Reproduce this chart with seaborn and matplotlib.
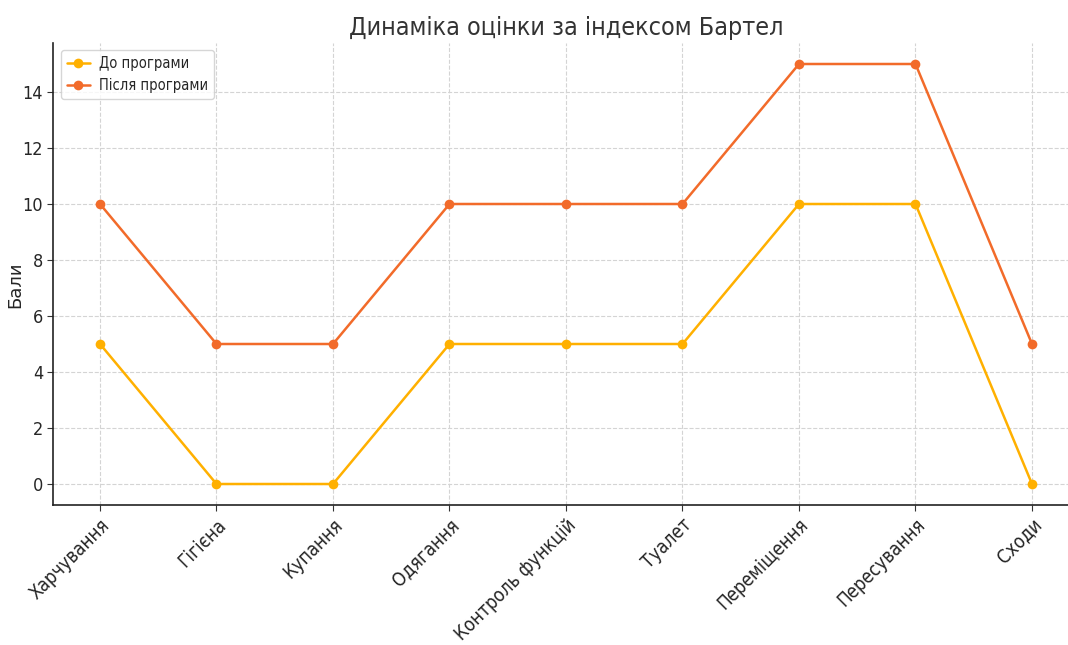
import pandas as pd
import matplotlib.pyplot as plt
import seaborn as sns

categories = ["Харчування", "Гігієна", "Купання", "Одягання", "Контроль функцій",
              "Туалет", "Переміщення", "Пересування", "Сходи"]
before = [5, 0, 0, 5, 5, 5, 10, 10, 0]
after = [10, 5, 5, 10, 10, 10, 15, 15, 5]
series_names = ["До програми", "Після програми"]
colors = ["#FFB000", "#F26B2A"]

sns.set_style("whitegrid", {"grid.linestyle": "--", "grid.color": "#d4d4d4"})
plt.rcParams['font.family'] = ['DejaVu Sans']
plt.rcParams['font.stretch'] = 'condensed'

df = pd.DataFrame({
    "Категорія": categories * 2,
    "Бали": before + after,
    "Серія": [series_names[0]] * len(before) + [series_names[1]] * len(after),
})

fig = plt.figure(figsize=(10.68, 6.45), dpi=100)
ax = fig.add_axes([53.4 / 1068, 140 / 645, (1078.6 - 53.4) / 1068, (505 - 43) / 645])
sns.lineplot(data=df, x="Категорія", y="Бали", hue="Серія", palette=colors,
             marker="o", markersize=7, markeredgewidth=0, linewidth=1.8, ax=ax, sort=False)

ax.set_title("Динаміка оцінки за індексом Бартел", fontsize=18, color="#333333")
ax.set_xlabel("")
ax.set_ylabel("Бали", fontsize=13, fontstretch="normal")
ax.yaxis.set_label_coords(-0.028, 0.476)
ax.tick_params(axis="y", labelsize=13, length=4, color="#333333")
ax.tick_params(axis="x", labelsize=13.5, length=4, color="#333333")
ax.tick_params(axis="x", bottom=True)
ax.tick_params(axis="y", left=True)
plt.setp(ax.get_xticklabels(), rotation=45, ha="right", rotation_mode="anchor")
ax.set_xlim(-0.4, 8.4)
ax.set_ylim(-0.75, 15.75)
ax.set_yticks([0, 2, 4, 6, 8, 10, 12, 14])
for s in ["top", "right"]:
    ax.spines[s].set_visible(False)
for s in ["left", "bottom"]:
    ax.spines[s].set_color("#222222")
    ax.spines[s].set_linewidth(1.2)
ax.legend(loc="upper left", fontsize=10.5, frameon=True, handlelength=1.6,
          handletextpad=0.6, borderaxespad=0.5)

fig.savefig("out.png", dpi=100)
